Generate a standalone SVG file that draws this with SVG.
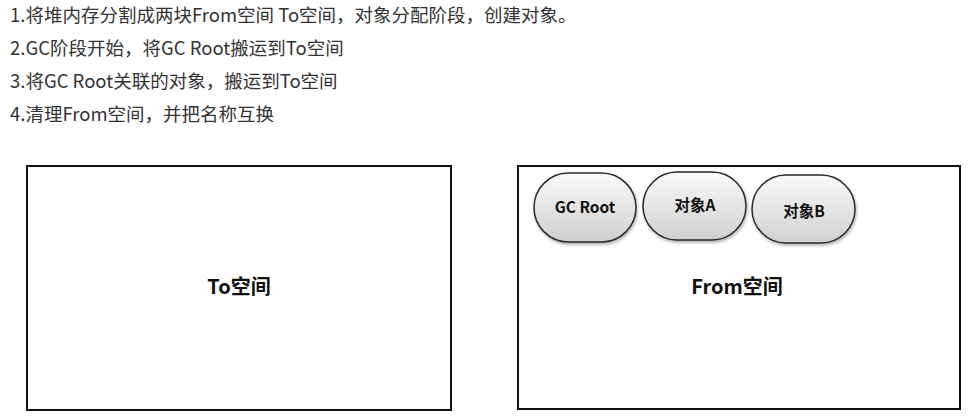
<svg xmlns="http://www.w3.org/2000/svg" width="973" height="416" viewBox="0 0 973 416">
<style>
.step{font-family:"Noto Sans CJK SC","Microsoft YaHei",sans-serif;font-size:18.5px;fill:#333}
.box{fill:#fff;stroke:#111;stroke-width:2}
.lbl{font-family:"Noto Sans CJK SC",sans-serif;font-size:20px;font-weight:bold;fill:#111;text-anchor:middle}
.pill{fill:url(#g);stroke:#2a2a2a;stroke-width:1.5;filter:url(#sh)}
.pt{font-family:"Noto Sans CJK SC",sans-serif;font-size:15.5px;font-weight:bold;fill:#111;text-anchor:middle}
</style>
<defs>
<linearGradient id="g" x1="0" y1="0" x2="0" y2="1">
<stop offset="0" stop-color="#fafafa"/>
<stop offset="1" stop-color="#d0d0d0"/>
</linearGradient>
<filter id="sh" x="-10%" y="-10%" width="130%" height="130%">
<feDropShadow dx="1" dy="2" stdDeviation="1.5" flood-color="#000" flood-opacity="0.3"/>
</filter>
</defs>
<rect width="973" height="416" fill="#fff"/>
<g id="steps">
<text class="step" x="10" y="22">1.将堆内存分割成两块From空间 To空间，对象分配阶段，创建对象。</text>
<text class="step" x="10" y="55">2.GC阶段开始，将GC Root搬运到To空间</text>
<text class="step" x="10" y="88">3.将GC Root关联的对象，搬运到To空间</text>
<text class="step" x="10" y="121">4.清理From空间，并把名称互换</text>
</g>
<g id="to-space">
<rect class="box" x="27" y="166" width="424" height="244"/>
<text class="lbl" x="239" y="294">To空间</text>
</g>
<g id="from-space">
<rect class="box" x="518" y="166" width="442" height="243"/>
<text class="lbl" x="737" y="294">From空间</text>
</g>
<g id="gc-root">
<rect class="pill" x="534" y="173" width="102" height="69" rx="34.5"/>
<text class="pt" x="585" y="213">GC Root</text>
</g>
<g id="obj-a">
<rect class="pill" x="643" y="172" width="103" height="68" rx="34"/>
<text class="pt" x="695" y="211">对象A</text>
</g>
<g id="obj-b">
<rect class="pill" x="752" y="175" width="103" height="68" rx="34"/>
<text class="pt" x="804" y="217">对象B</text>
</g>
<g id="connectors"/>
</svg>
